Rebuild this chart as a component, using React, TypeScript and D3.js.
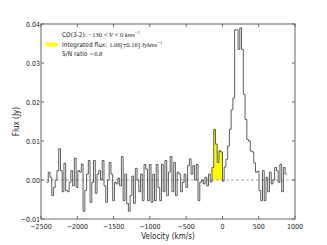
import { useEffect, useRef } from 'react';
import * as d3 from 'd3';

// spectrum channels: first channel left edge and width (km/s)
const CHANNEL_START = -2424;
const CHANNEL_WIDTH = 24;

// flux per channel (Jy)
const FLUX = [
  -0.0006, 0.002, 0.0007, -0.004, -0.0019, 0, 0.0024, 0.008, 0.0024, -0.003,
  0.0043, -0.0027, -0.003, -0.0006, 0.0024, -0.0015, 0.0056, -0.0019, 0.0024, 0.002,
  0.0041, -0.008, -0.0027, 0.0015, 0.005, -0.0057, -0.0006, 0.005, -0.0034, 0.0015,
  0.0024, 0, 0.005, -0.0015, -0.0057, 0, 0.0045, 0.0015, -0.0053, -0.0006,
  -0.001, 0.0005, -0.0015, 0.006, -0.0053, 0.0015, -0.006, -0.008, -0.004, 0.001,
  -0.006, 0.003, 0, -0.003, 0.0015, -0.0053, 0.004, 0.0028, -0.0053, 0.004,
  -0.0057, 0.0015, -0.0053, 0.004, -0.0019, -0.0053, 0.004, -0.003, 0.005, -0.004,
  0.002, 0.006, -0.003, 0.0045, -0.004, 0.002, 0.0015, -0.003, -0.0006, 0.0015,
  -0.0019, 0.0037, 0.0054, 0.0015, 0.0037, 0, 0.004, -0.0053, -0.0006, 0,
  -0.001, 0.0007, -0.0015, 0.0015, -0.0005, 0.0032, 0.013, 0.0092, 0.0045, 0.0075, 0.0072,
  -0.0003, 0.0033, 0.0053, 0.0087, 0.013, 0.018, 0.021, 0.0385, 0.0385, 0.0335,
  0.039, 0.0335, 0.022, 0.0155, 0.0104, 0.01, 0.0074, 0.0072, 0.0044, 0.002,
  0.0022, -0.0027, -0.0053, 0.0024, -0.0053, 0.0007, -0.003, 0.002, -0.001, 0,
  0.0032, 0.0024, -0.0006, 0.004, -0.003, 0.0032, 0.0015,
];

// integration window (km/s)
const WINDOW = [-130, 0];

const X_TICKS = [-2500, -2000, -1500, -1000, -500, 0, 500, 1000];
const Y_TICKS = [-0.01, 0.0, 0.01, 0.02, 0.03, 0.04];

const LEGEND_LINES = ['CO(3-2): ', 'Integrated flux: ', 'S/N ratio ~'];

const App = () => {
  const svgRef = useRef<SVGSVGElement>(null);
  const width = 327;
  const height = 245;

  useEffect(() => {
    if (!svgRef.current) return;
    const svg = d3.select(svgRef.current);
    svg.selectAll('*').remove();

    const margin = { top: 24, right: 32, bottom: 26, left: 41 };
    const x = d3.scaleLinear().domain([-2500, 1000]).range([margin.left, width - margin.right]);
    const y = d3.scaleLinear().domain([-0.01, 0.04]).range([height - margin.bottom, margin.top]);
    const tickFont = "'DejaVu Sans Condensed', 'DejaVu Sans', sans-serif";

    const pts = FLUX.map((f, i) => ({ v: CHANNEL_START + i * CHANNEL_WIDTH, f }));
    const lastV = CHANNEL_START + FLUX.length * CHANNEL_WIDTH;

    // yellow fill over channels overlapping the window
    const inWin = pts.filter(p => p.v + CHANNEL_WIDTH > WINDOW[0] && p.v < WINDOW[1]);
    const area = d3.area<{ v: number; f: number }>()
      .x(d => x(d.v))
      .y0(y(0))
      .y1(d => y(d.f))
      .curve(d3.curveStepAfter);
    const winEnd = inWin[inWin.length - 1];
    svg.append('path')
      .datum([...inWin, { v: winEnd.v + CHANNEL_WIDTH, f: winEnd.f }])
      .attr('d', area)
      .attr('fill', '#ffff00');

    // zero line
    svg.append('line')
      .attr('x1', x(-2500)).attr('x2', x(1000))
      .attr('y1', y(0)).attr('y2', y(0))
      .attr('stroke', '#aaa')
      .attr('stroke-width', 1)
      .attr('stroke-dasharray', '3,2');

    // spectrum
    const line = d3.line<{ v: number; f: number }>()
      .x(d => x(d.v))
      .y(d => y(d.f))
      .curve(d3.curveStepAfter);
    svg.append('path')
      .datum([...pts, { v: lastV, f: FLUX[FLUX.length - 1] }])
      .attr('d', line)
      .attr('fill', 'none')
      .attr('stroke', '#333')
      .attr('stroke-width', 0.8);

    // frame
    svg.append('rect')
      .attr('x', x(-2500)).attr('y', y(0.04))
      .attr('width', x(1000) - x(-2500))
      .attr('height', y(-0.01) - y(0.04))
      .attr('fill', 'none')
      .attr('stroke', '#666')
      .attr('stroke-width', 1);

    const tl = 3;
    X_TICKS.forEach(t => {
      svg.append('line').attr('x1', x(t)).attr('x2', x(t))
        .attr('y1', y(-0.01)).attr('y2', y(-0.01) - tl).attr('stroke', '#666');
      svg.append('line').attr('x1', x(t)).attr('x2', x(t))
        .attr('y1', y(0.04)).attr('y2', y(0.04) + tl).attr('stroke', '#666');
      svg.append('text')
        .attr('x', x(t)).attr('y', y(-0.01) + 10)
        .attr('text-anchor', 'middle')
        .attr('font-family', tickFont).attr('font-size', 7)
        .attr('fill', '#222')
        .text(t < 0 ? `\u2212${Math.abs(t)}` : `${t}`);
    });
    Y_TICKS.forEach(t => {
      svg.append('line').attr('x1', x(-2500)).attr('x2', x(-2500) + tl)
        .attr('y1', y(t)).attr('y2', y(t)).attr('stroke', '#666');
      svg.append('line').attr('x1', x(1000)).attr('x2', x(1000) - tl)
        .attr('y1', y(t)).attr('y2', y(t)).attr('stroke', '#666');
      svg.append('text')
        .attr('x', x(-2500) - 1).attr('y', y(t) + 2.5)
        .attr('text-anchor', 'end')
        .attr('font-family', tickFont).attr('font-size', 7)
        .attr('fill', '#222')
        .text(t < 0 ? `\u2212${Math.abs(t).toFixed(2)}` : t.toFixed(2));
    });

    // axis labels
    svg.append('text')
      .attr('x', (x(-2500) + x(1000)) / 2).attr('y', 239)
      .attr('text-anchor', 'middle')
      .attr('font-family', tickFont).attr('font-size', 8)
      .attr('fill', '#222')
      .text('Velocity (km/s)');
    svg.append('text')
      .attr('transform', `translate(19, ${(y(0.04) + y(-0.01)) / 2}) rotate(-90)`)
      .attr('text-anchor', 'middle')
      .attr('font-family', tickFont).attr('font-size', 8)
      .attr('fill', '#222')
      .text('Flux (Jy)');

    // legend
    const lx = 62;
    const ly = [37, 46.5, 56];
    const math = "'Liberation Serif', 'DejaVu Serif', serif";
    svg.append('rect').attr('x', 46).attr('y', 42.5).attr('width', 11.5).attr('height', 4)
      .attr('fill', '#ffff00');

    const t0 = svg.append('text').attr('x', lx).attr('y', ly[0])
      .attr('font-family', tickFont).attr('font-size', 6.5).attr('fill', '#222');
    t0.append('tspan').text(LEGEND_LINES[0]);
    t0.append('tspan').attr('font-family', math).text('\u2212130 < ');
    t0.append('tspan').attr('font-family', math).attr('font-style', 'italic').text('V');
    t0.append('tspan').attr('font-family', math).text(` < ${WINDOW[1]} `);
    t0.append('tspan').attr('font-family', math).attr('font-style', 'italic').text('kms');
    t0.append('tspan').attr('font-family', math).attr('font-size', 4.5).attr('dy', -3).text('\u22121');

    const t1 = svg.append('text').attr('x', lx).attr('y', ly[1])
      .attr('font-family', tickFont).attr('font-size', 6.5).attr('fill', '#222');
    t1.append('tspan').text(LEGEND_LINES[1]);
    t1.append('tspan').attr('font-family', math).text('1.06[\u00b10.16] ');
    t1.append('tspan').attr('font-family', math).attr('font-style', 'italic').text('Jykms');
    t1.append('tspan').attr('font-family', math).attr('font-size', 4.5).attr('dy', -3).text('\u22121');

    const t2 = svg.append('text').attr('x', lx).attr('y', ly[2])
      .attr('font-family', tickFont).attr('font-size', 6.5).attr('fill', '#222');
    t2.append('tspan').text(LEGEND_LINES[2]);
    t2.append('tspan').attr('font-family', math).attr('font-style', 'italic').text('6.8');
  }, []);

  return (
    <svg
      ref={svgRef}
      width={width}
      height={height}
      style={{ position: 'absolute', left: 0, top: 0, background: '#fff' }}
    />
  );
};

export default App;
